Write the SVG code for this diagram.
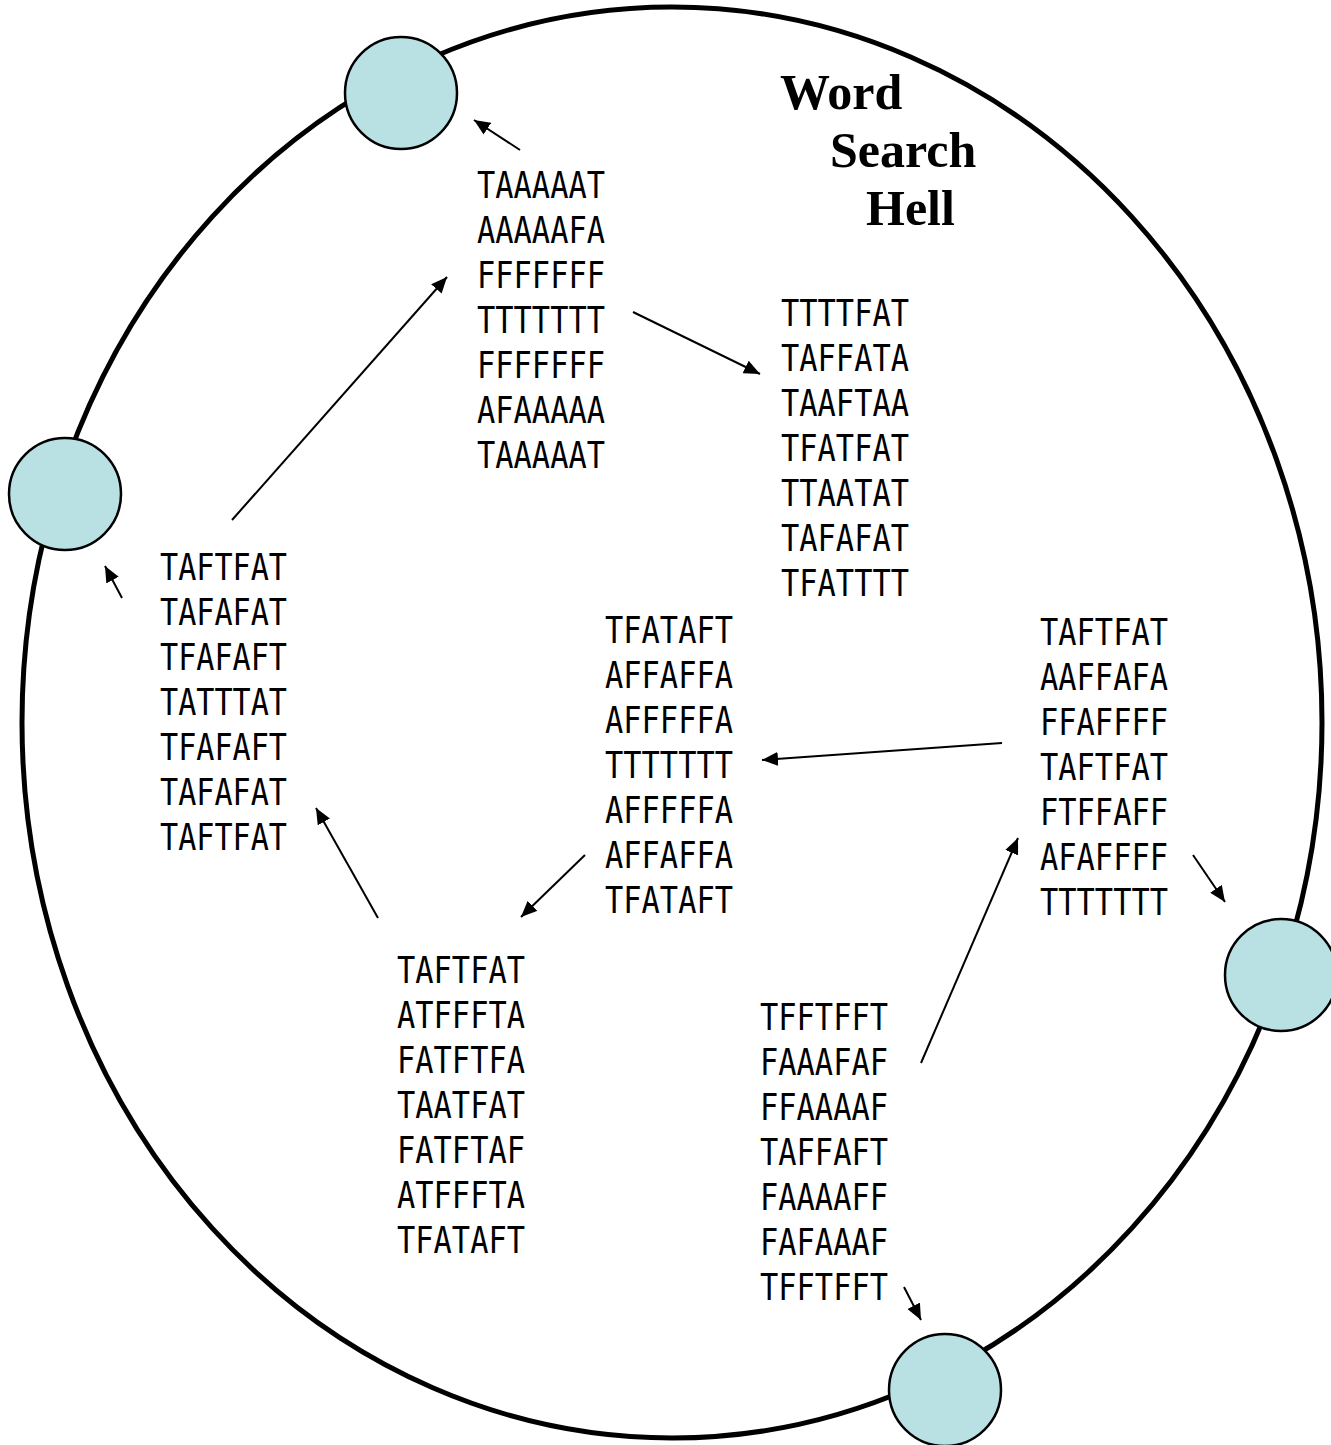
<svg xmlns="http://www.w3.org/2000/svg" width="1331" height="1445" viewBox="0 0 1331 1445">
<style>
.g{font-family:"DejaVu Sans Mono","Liberation Mono",monospace;font-size:38px;fill:#000}
.t{font-family:"Liberation Serif","DejaVu Serif",serif;font-weight:bold;font-size:50px;fill:#000}
.n{fill:#b9e0e3;stroke:#000;stroke-width:2.5}
.c{stroke:#000;stroke-width:2;fill:none;marker-end:url(#ah)}
</style>
<defs>
<marker id="ah" markerUnits="userSpaceOnUse" markerWidth="18" markerHeight="14" refX="16" refY="7" orient="auto">
<path d="M0,0 L16,7 L0,14 Z" fill="#000"/>
</marker>
</defs>
<rect width="1331" height="1445" fill="#fff"/>
<ellipse id="ring" cx="672" cy="722.5" rx="650" ry="715.5" fill="none" stroke="#000" stroke-width="5"/>
<g id="connectors">
<line class="c" x1="520" y1="150" x2="474" y2="120"/>
<line class="c" x1="633" y1="312" x2="760" y2="374"/>
<line class="c" x1="232" y1="520" x2="447" y2="277"/>
<line class="c" x1="122" y1="598" x2="105" y2="566"/>
<line class="c" x1="1002" y1="743" x2="762" y2="760"/>
<line class="c" x1="585" y1="855" x2="521" y2="917"/>
<line class="c" x1="378" y1="918" x2="316" y2="808"/>
<line class="c" x1="921" y1="1063" x2="1018" y2="838"/>
<line class="c" x1="1193" y1="855" x2="1225" y2="902"/>
<line class="c" x1="904" y1="1287" x2="921" y2="1320"/>
</g>
<g id="node-top"><circle class="n" cx="401" cy="93" r="56"/></g>
<g id="node-left"><circle class="n" cx="65" cy="494" r="56"/></g>
<g id="node-right"><circle class="n" cx="1281" cy="975" r="56"/></g>
<g id="node-bottom"><circle class="n" cx="945" cy="1390" r="56"/></g>
<g id="title">
<text class="t" x="780" y="109">Word</text>
<text class="t" x="830" y="167">Search</text>
<text class="t" x="866" y="225">Hell</text>
</g>
<g id="grid-a" class="g">
<text x="477" y="198" textLength="128" lengthAdjust="spacingAndGlyphs">TAAAAAT</text>
<text x="477" y="243" textLength="128" lengthAdjust="spacingAndGlyphs">AAAAAFA</text>
<text x="477" y="288" textLength="128" lengthAdjust="spacingAndGlyphs">FFFFFFF</text>
<text x="477" y="333" textLength="128" lengthAdjust="spacingAndGlyphs">TTTTTTT</text>
<text x="477" y="378" textLength="128" lengthAdjust="spacingAndGlyphs">FFFFFFF</text>
<text x="477" y="423" textLength="128" lengthAdjust="spacingAndGlyphs">AFAAAAA</text>
<text x="477" y="468" textLength="128" lengthAdjust="spacingAndGlyphs">TAAAAAT</text>
</g>
<g id="grid-b" class="g">
<text x="781" y="326" textLength="128" lengthAdjust="spacingAndGlyphs">TTTTFAT</text>
<text x="781" y="371" textLength="128" lengthAdjust="spacingAndGlyphs">TAFFATA</text>
<text x="781" y="416" textLength="128" lengthAdjust="spacingAndGlyphs">TAAFTAA</text>
<text x="781" y="461" textLength="128" lengthAdjust="spacingAndGlyphs">TFATFAT</text>
<text x="781" y="506" textLength="128" lengthAdjust="spacingAndGlyphs">TTAATAT</text>
<text x="781" y="551" textLength="128" lengthAdjust="spacingAndGlyphs">TAFAFAT</text>
<text x="781" y="596" textLength="128" lengthAdjust="spacingAndGlyphs">TFATTTT</text>
</g>
<g id="grid-c" class="g">
<text x="160" y="580" textLength="127" lengthAdjust="spacingAndGlyphs">TAFTFAT</text>
<text x="160" y="625" textLength="127" lengthAdjust="spacingAndGlyphs">TAFAFAT</text>
<text x="160" y="670" textLength="127" lengthAdjust="spacingAndGlyphs">TFAFAFT</text>
<text x="160" y="715" textLength="127" lengthAdjust="spacingAndGlyphs">TATTTAT</text>
<text x="160" y="760" textLength="127" lengthAdjust="spacingAndGlyphs">TFAFAFT</text>
<text x="160" y="805" textLength="127" lengthAdjust="spacingAndGlyphs">TAFAFAT</text>
<text x="160" y="850" textLength="127" lengthAdjust="spacingAndGlyphs">TAFTFAT</text>
</g>
<g id="grid-d" class="g">
<text x="605" y="643" textLength="128" lengthAdjust="spacingAndGlyphs">TFATAFT</text>
<text x="605" y="688" textLength="128" lengthAdjust="spacingAndGlyphs">AFFAFFA</text>
<text x="605" y="733" textLength="128" lengthAdjust="spacingAndGlyphs">AFFFFFA</text>
<text x="605" y="778" textLength="128" lengthAdjust="spacingAndGlyphs">TTTTTTT</text>
<text x="605" y="823" textLength="128" lengthAdjust="spacingAndGlyphs">AFFFFFA</text>
<text x="605" y="868" textLength="128" lengthAdjust="spacingAndGlyphs">AFFAFFA</text>
<text x="605" y="913" textLength="128" lengthAdjust="spacingAndGlyphs">TFATAFT</text>
</g>
<g id="grid-e" class="g">
<text x="1040" y="645" textLength="128" lengthAdjust="spacingAndGlyphs">TAFTFAT</text>
<text x="1040" y="690" textLength="128" lengthAdjust="spacingAndGlyphs">AAFFAFA</text>
<text x="1040" y="735" textLength="128" lengthAdjust="spacingAndGlyphs">FFAFFFF</text>
<text x="1040" y="780" textLength="128" lengthAdjust="spacingAndGlyphs">TAFTFAT</text>
<text x="1040" y="825" textLength="128" lengthAdjust="spacingAndGlyphs">FTFFAFF</text>
<text x="1040" y="870" textLength="128" lengthAdjust="spacingAndGlyphs">AFAFFFF</text>
<text x="1040" y="915" textLength="128" lengthAdjust="spacingAndGlyphs">TTTTTTT</text>
</g>
<g id="grid-f" class="g">
<text x="397" y="983" textLength="128" lengthAdjust="spacingAndGlyphs">TAFTFAT</text>
<text x="397" y="1028" textLength="128" lengthAdjust="spacingAndGlyphs">ATFFFTA</text>
<text x="397" y="1073" textLength="128" lengthAdjust="spacingAndGlyphs">FATFTFA</text>
<text x="397" y="1118" textLength="128" lengthAdjust="spacingAndGlyphs">TAATFAT</text>
<text x="397" y="1163" textLength="128" lengthAdjust="spacingAndGlyphs">FATFTAF</text>
<text x="397" y="1208" textLength="128" lengthAdjust="spacingAndGlyphs">ATFFFTA</text>
<text x="397" y="1253" textLength="128" lengthAdjust="spacingAndGlyphs">TFATAFT</text>
</g>
<g id="grid-g" class="g">
<text x="760" y="1030" textLength="128" lengthAdjust="spacingAndGlyphs">TFFTFFT</text>
<text x="760" y="1075" textLength="128" lengthAdjust="spacingAndGlyphs">FAAAFAF</text>
<text x="760" y="1120" textLength="128" lengthAdjust="spacingAndGlyphs">FFAAAAF</text>
<text x="760" y="1165" textLength="128" lengthAdjust="spacingAndGlyphs">TAFFAFT</text>
<text x="760" y="1210" textLength="128" lengthAdjust="spacingAndGlyphs">FAAAAFF</text>
<text x="760" y="1255" textLength="128" lengthAdjust="spacingAndGlyphs">FAFAAAF</text>
<text x="760" y="1300" textLength="128" lengthAdjust="spacingAndGlyphs">TFFTFFT</text>
</g>
</svg>
